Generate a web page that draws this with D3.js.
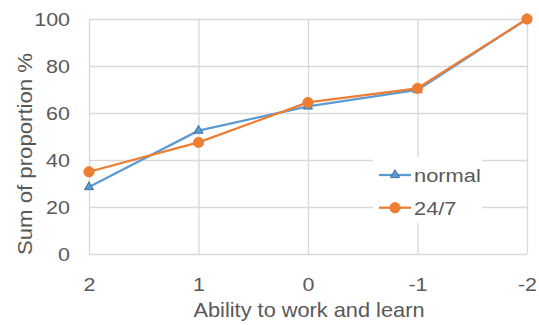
<!DOCTYPE html>
<html>
<head>
<meta charset="utf-8">
<script src="https://cdn.jsdelivr.net/npm/d3@7"></script>
<style>
  html, body { margin: 0; padding: 0; background: #fff; }
  svg { display: block; }
  text { font-family: "Liberation Sans", Arial, sans-serif; fill: #595959; }
</style>
</head>
<body>
<svg id="chart" width="539" height="325"></svg>
<script>
// Categories on the x axis (ability score, descending) and cumulative proportions
const categories = ["2", "1", "0", "-1", "-2"];
const normalValues = [28.5, 52.5, 62.8, 69.8, 100];
const roundClockValues = [35, 47.5, 64.5, 70.5, 100];
const yTickValues = [0, 20, 40, 60, 80, 100];
const seriesNames = ["normal", "24/7"];
const xTitle = "Ability to work and learn";
const yTitle = "Sum of proportion %";

const svg = d3.select("#chart");
const plot = { left: 89, right: 527, top: 19, bottom: 254 };
const textStretch = 1.13;

const x = d3.scalePoint().domain(categories).range([plot.left, plot.right]);
const y = d3.scaleLinear().domain([0, 100]).range([plot.bottom, plot.top]);

// gridlines
const gridColor = "#d9d9d9";
const yGrid = svg.append("g")
  .attr("transform", `translate(${plot.left},0)`)
  .call(d3.axisLeft(y).tickValues(yTickValues).tickSize(-(plot.right - plot.left)).tickFormat(""));
const xGrid = svg.append("g")
  .attr("transform", `translate(0,${plot.bottom})`)
  .call(d3.axisBottom(x).tickSize(plot.bottom - plot.top).tickSizeOuter(0).tickFormat(""));
xGrid.selectAll(".tick line").attr("y2", -(plot.bottom - plot.top));
[yGrid, xGrid].forEach(g => {
  g.select(".domain").remove();
  g.selectAll(".tick line").attr("stroke", gridColor).attr("stroke-width", 1.3);
});

// tick labels (slightly widened glyphs)
function stretchLabels(g) {
  g.select(".domain").remove();
  g.selectAll(".tick text").each(function () {
    const t = d3.select(this);
    const tx = +t.attr("x") || 0;
    const ty = +t.attr("y") || 0;
    t.attr("x", 0).attr("y", 0)
     .attr("transform", `translate(${tx},${ty}) scale(${textStretch},1)`)
     .attr("fill", "#595959");
  });
}
svg.append("g")
  .attr("transform", `translate(${plot.left},0)`)
  .call(d3.axisLeft(y).tickValues(yTickValues).tickSize(0).tickPadding(19))
  .attr("font-size", 19)
  .attr("font-family", "Liberation Sans, Arial, sans-serif")
  .call(stretchLabels);
svg.append("g")
  .attr("transform", `translate(0,${plot.bottom})`)
  .call(d3.axisBottom(x).tickSize(0).tickPadding(23.5))
  .attr("font-size", 19)
  .attr("font-family", "Liberation Sans, Arial, sans-serif")
  .call(stretchLabels);

// axis titles
svg.append("text")
  .attr("x", 309).attr("y", 316.5)
  .attr("text-anchor", "middle")
  .attr("font-size", 21)
  .attr("textLength", 231)
  .attr("lengthAdjust", "spacingAndGlyphs")
  .text(xTitle);
svg.append("text")
  .attr("transform", "translate(31.5,154) rotate(-90)")
  .attr("text-anchor", "middle")
  .attr("font-size", 21)
  .attr("textLength", 202)
  .attr("lengthAdjust", "spacingAndGlyphs")
  .text(yTitle);

// series
const series = [
  { name: seriesNames[0], values: normalValues, color: "#5b9bd5", marker: "triangle", edge: "#41719c" },
  { name: seriesNames[1], values: roundClockValues, color: "#ed7d31", marker: "circle", edge: "#ed7d31" }
];
const line = d3.line().x((d, i) => x(categories[i])).y(d => y(d));
const triangle = d3.symbol(d3.symbolTriangle, 36);

function drawMarker(g, s, cx, cy) {
  if (s.marker === "triangle") {
    g.append("path")
      .attr("d", triangle())
      .attr("transform", `translate(${cx},${cy})`)
      .attr("fill", s.color).attr("stroke", s.edge).attr("stroke-width", 1);
  } else {
    g.append("circle")
      .attr("cx", cx).attr("cy", cy).attr("r", 5.2)
      .attr("fill", s.color).attr("stroke", s.edge).attr("stroke-width", 0.8);
  }
}

series.forEach(s => {
  const g = svg.append("g");
  g.append("path")
    .datum(s.values)
    .attr("d", line)
    .attr("fill", "none")
    .attr("stroke", s.color)
    .attr("stroke-width", 2.25)
    .attr("stroke-linejoin", "round");
  s.values.forEach((v, i) => drawMarker(g, s, x(categories[i]), y(v)));
});

// legend
const legend = svg.append("g");
legend.append("rect")
  .attr("x", 373).attr("y", 157).attr("width", 109).attr("height", 66)
  .attr("fill", "#fff");
const rows = [175, 207.7];
series.forEach((s, i) => {
  const ly = rows[i];
  legend.append("line")
    .attr("x1", 379).attr("x2", 411).attr("y1", ly).attr("y2", ly)
    .attr("stroke", s.color).attr("stroke-width", 2.25);
  drawMarker(legend, s, 395, ly);
  legend.append("text")
    .attr("transform", `translate(414,${ly + 7}) scale(${textStretch + 0.02},1)`)
    .attr("font-size", 19)
    .text(s.name);
});
</script>
</body>
</html>
